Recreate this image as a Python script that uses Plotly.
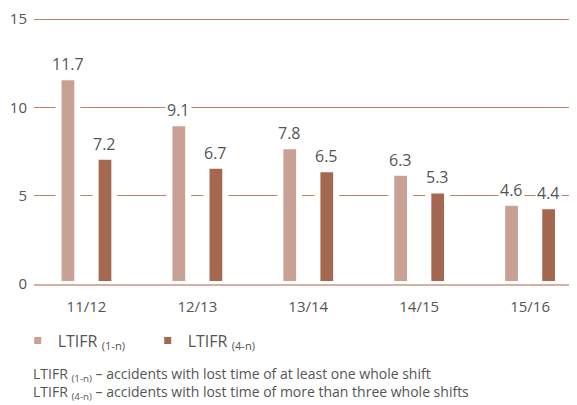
import plotly.graph_objects as go

years = ["11/12", "12/13", "13/14", "14/15", "15/16"]
ltifr_1n = [11.7, 9.1, 7.8, 6.3, 4.6]
ltifr_4n = [7.2, 6.7, 6.5, 5.3, 4.4]
y_ticks = [0, 5, 10, 15]

LIGHT = "#c9a194"
DARK = "#a46850"
GRID = "#bd8068"
TEXT = "#555555"
FONT = "Open Sans"

fig = go.Figure()
for name, vals, color in [
    ("LTIFR <sub>(1-n)</sub>", ltifr_1n, LIGHT),
    ("LTIFR <sub>(4-n)</sub>", ltifr_4n, DARK),
]:
    fig.add_trace(go.Bar(
        x=years, y=vals, name=name,
        marker={"color": color, "line": {"color": "white", "width": 6}},
        hoverinfo="x+y",
    ))

annotations = []
for vals, shift in [(ltifr_1n, -18.5), (ltifr_4n, 18.5)]:
    for cat, v in zip(years, vals):
        annotations.append({
            "x": cat, "y": v, "xref": "x", "yref": "y",
            "text": f"{v:.1f}", "showarrow": False,
            "xshift": shift, "yshift": 0, "yanchor": "bottom",
            "bgcolor": "white", "borderpad": 1,
            "font": {"family": FONT, "size": 16, "color": TEXT},
        })

notes = [
    "LTIFR <sub>(1-n)</sub> \u2013 accidents with lost time of at least one whole shift",
    "LTIFR <sub>(4-n)</sub> \u2013 accidents with lost time of more than three whole shifts",
]
for i, note in enumerate(notes):
    annotations.append({
        "x": 0.0, "y": -0.331 - 0.068 * i, "xref": "paper", "yref": "paper",
        "xanchor": "left", "yanchor": "middle", "xshift": -3,
        "text": note, "showarrow": False, "align": "left",
        "font": {"family": FONT, "size": 14, "color": TEXT},
    })

# page body adds an 8px offset, so the figure is 8px smaller than the window
fig.update_layout(
    width=569, height=397,
    margin={"l": 26, "r": 0, "t": 2, "b": 121},
    plot_bgcolor="white", paper_bgcolor="white",
    barmode="group", bargap=0.332, bargroupgap=0.494,
    font={"family": FONT, "color": TEXT, "size": 15},
    showlegend=True,
    legend={
        "orientation": "h", "x": -0.03, "y": -0.208,
        "xanchor": "left", "yanchor": "middle",
        "font": {"family": FONT, "size": 16, "color": TEXT},
        "entrywidth": 85,
    },
    xaxis={
        "type": "category", "range": [-0.473, 4.423],
        "showgrid": False, "ticks": "",
        "showline": True, "linecolor": "#d6b0a2", "linewidth": 2,
        "layer": "above traces",
        "tickfont": {"size": 15, "color": TEXT},
        "ticklabelstandoff": 8,
    },
    yaxis={
        "range": [0, 15.4], "tickvals": y_ticks,
        "showgrid": True, "gridcolor": GRID, "gridwidth": 1,
        "zeroline": False, "showline": False, "ticks": "",
        "tickfont": {"size": 15, "color": TEXT},
        "ticklabelstandoff": 6, "ticklabeloverflow": "allow",
    },
    annotations=annotations,
)

fig.write_html("out.html")
